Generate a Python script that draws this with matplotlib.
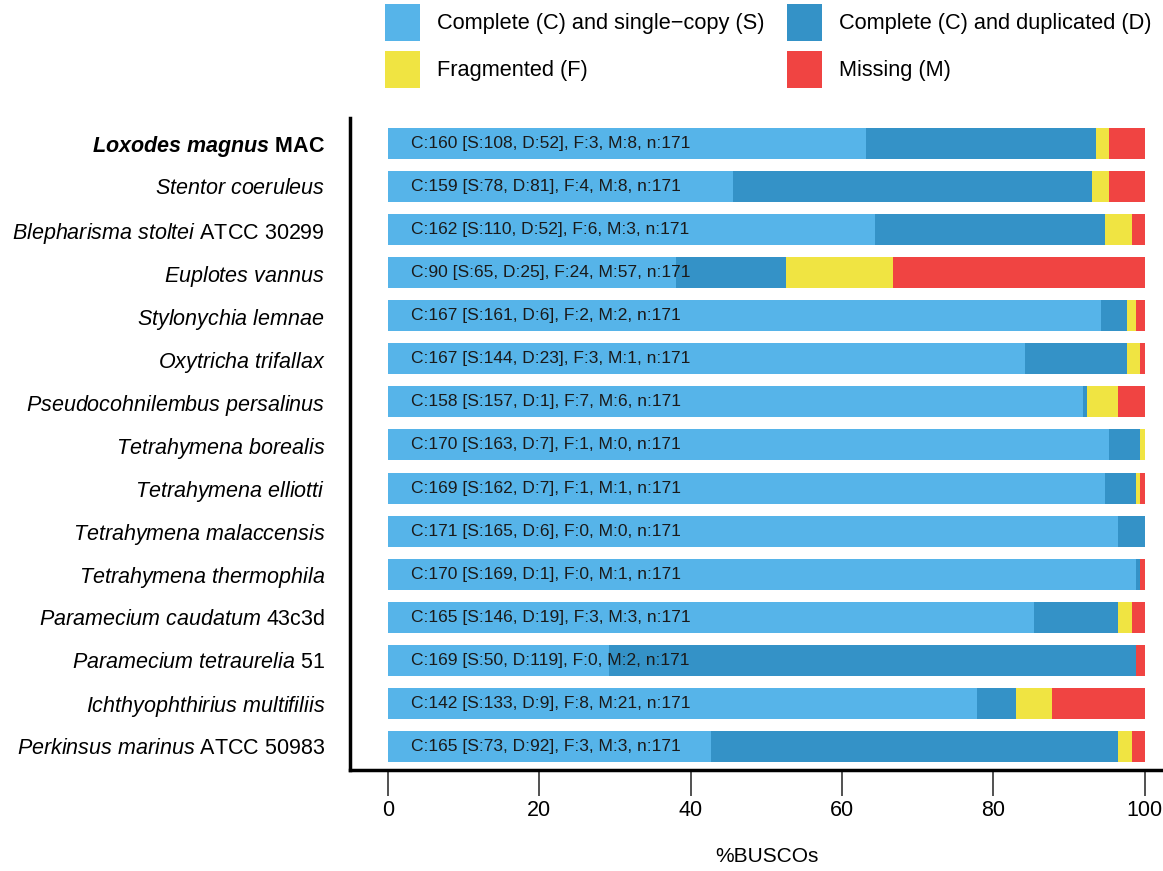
import matplotlib
matplotlib.use("Agg")
import matplotlib.pyplot as plt
from matplotlib.patches import Patch
from matplotlib import font_manager

# species labels (mathtext for italics), top to bottom
labels = [
    r"$\mathbfit{Loxodes\ magnus}$ $\mathbf{MAC}$",
    r"$\mathit{Stentor\ coeruleus}$",
    r"$\mathit{Blepharisma\ stoltei}$ ATCC 30299",
    r"$\mathit{Euplotes\ vannus}$",
    r"$\mathit{Stylonychia\ lemnae}$",
    r"$\mathit{Oxytricha\ trifallax}$",
    r"$\mathit{Pseudocohnilembus\ persalinus}$",
    r"$\mathit{Tetrahymena\ borealis}$",
    r"$\mathit{Tetrahymena\ elliotti}$",
    r"$\mathit{Tetrahymena\ malaccensis}$",
    r"$\mathit{Tetrahymena\ thermophila}$",
    r"$\mathit{Paramecium\ caudatum}$ 43c3d",
    r"$\mathit{Paramecium\ tetraurelia}$ 51",
    r"$\mathit{Ichthyophthirius\ multifiliis}$",
    r"$\mathit{Perkinsus\ marinus}$ ATCC 50983",
]
single = [108, 78, 110, 65, 161, 144, 157, 163, 162, 165, 169, 146, 50, 133, 73]
dup = [52, 81, 52, 25, 6, 23, 1, 7, 7, 6, 1, 19, 119, 9, 92]
frag = [3, 4, 6, 24, 2, 3, 7, 1, 1, 0, 0, 3, 0, 8, 3]
missing = [8, 8, 3, 57, 2, 1, 6, 0, 1, 0, 1, 3, 2, 21, 3]
n_total = 171

colors = ["#56B4E9", "#3492C7", "#F0E442", "#F04442"]
legend_labels = ["Complete (C) and single\u2212copy (S)", "Complete (C) and duplicated (D)",
                 "Fragmented (F)", "Missing (M)"]

names = {f.name for f in font_manager.fontManager.ttflist}
fam = "Liberation Sans" if "Liberation Sans" in names else "DejaVu Sans"
plt.rcParams["font.family"] = fam
plt.rcParams["mathtext.fontset"] = "custom"
plt.rcParams["mathtext.rm"] = fam
plt.rcParams["mathtext.it"] = fam + ":italic"
plt.rcParams["mathtext.bf"] = fam + ":bold"
plt.rcParams["mathtext.bfit"] = fam + ":italic:bold"

fig = plt.figure(figsize=(11.63, 8.71), dpi=100)
ax = fig.add_axes([350 / 1163, 1 - 770 / 871, 1 - 350 / 1163, (770 - 118) / 871])

y = list(range(len(labels)))
left = [0.0] * len(labels)
for vals, c in zip([single, dup, frag, missing], colors):
    pct = [v / n_total * 100 for v in vals]
    ax.barh(y, pct, left=left, height=0.72, color=c, edgecolor="none")
    left = [l + p for l, p in zip(left, pct)]

for i in y:
    c = single[i] + dup[i]
    txt = f"C:{c} [S:{single[i]}, D:{dup[i]}], F:{frag[i]}, M:{missing[i]}, n:{n_total}"
    ax.text(3.1, i, txt, va="center", ha="left", fontsize=12.5, color="#1a1a1a")

ax.set_xlim(-5.0, 102.4)
ax.set_ylim(14.546, -0.59)
ax.set_yticks(y)
ax.set_yticklabels(labels, fontsize=15.5)
ax.tick_params(axis="y", length=0, pad=18)
ax.set_xticks([0, 20, 40, 60, 80, 100])
ax.tick_params(axis="x", length=19, width=1.2, labelsize=15.5, pad=2.5, color="#333333")
ax.set_xlabel("%BUSCOs", fontsize=15)
ax.xaxis.set_label_coords((767 - 350) / (1163 - 350), -0.118)

for s in ["top", "right"]:
    ax.spines[s].set_visible(False)
for s in ["left", "bottom"]:
    ax.spines[s].set_linewidth(2.5)

handles = [Patch(facecolor=colors[0]), Patch(facecolor=colors[2]),
           Patch(facecolor=colors[1]), Patch(facecolor=colors[3])]
hl = [legend_labels[0], legend_labels[2], legend_labels[1], legend_labels[3]]
fig.legend(handles, hl, ncol=2, loc="upper left", bbox_to_anchor=(385 / 1163, 1 - 4 / 871),
           frameon=False, fontsize=15.7, handlelength=1.6, handleheight=2.24,
           handletextpad=0.78, columnspacing=1.05, labelspacing=0.46,
           borderpad=0, borderaxespad=0)

fig.savefig("out.png", dpi=100)
